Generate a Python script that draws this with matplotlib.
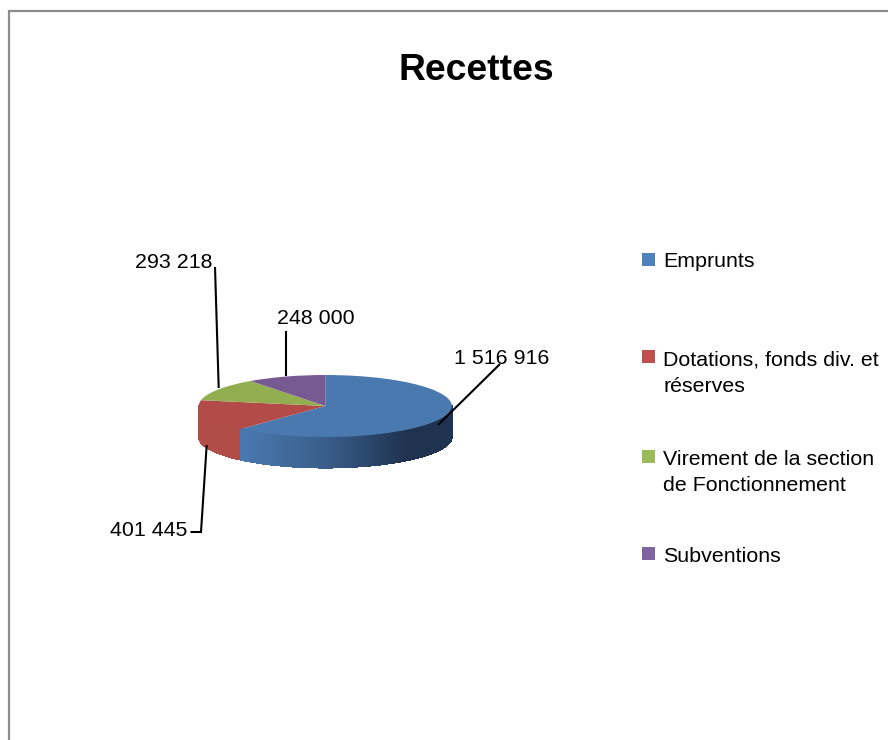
import numpy as np
import matplotlib
matplotlib.use("Agg")
import matplotlib.pyplot as plt
from matplotlib.transforms import Affine2D
from matplotlib.patches import Rectangle

plt.rcParams['font.family'] = ['Liberation Sans', 'DejaVu Sans']

title = "Recettes"
categories = ["Emprunts", "Dotations, fonds div. et\nréserves",
              "Virement de la section\nde Fonctionnement", "Subventions"]
values = [1516916, 401445, 293218, 248000]
value_labels = ["1 516 916", "401 445", "293 218", "248 000"]

top_colors = ["#4a79b0", "#b34c49", "#93ae50", "#775a92"]
legend_colors = ["#4f81bd", "#c0504d", "#9bbb59", "#8064a2"]

W, H = 888, 740
fig = plt.figure(figsize=(W / 100, H / 100), dpi=100, facecolor="white")
ax = fig.add_axes([0, 0, 1, 1])

def Y(p):
    return H - p

CX, CY, RX, RY, DEPTH = 325.3, 406, 126.5, 31, 30.5

# top face: real pie wedges squashed into an ellipse
wedges, _ = ax.pie(values, colors=top_colors, startangle=90, counterclock=False,
                   center=(CX, Y(CY)), radius=RX, frame=False,
                   wedgeprops=dict(linewidth=0))
squash = (Affine2D().translate(-CX, -Y(CY)).scale(1, RY / RX)
          .translate(CX, Y(CY)) + ax.transData)
for w in wedges:
    w.set_transform(squash)
    w.set_zorder(5)

ax.set_aspect("auto")
ax.set_xlim(0, W)
ax.set_ylim(0, H)
ax.axis("off")

# side wall: angles measured clockwise from 12 o'clock
edges = np.concatenate([[0], np.cumsum(values)]) / sum(values) * 360.0
BLUE_L, BLUE_M, BLUE_R = np.array([0x4a, 0x79, 0xb0]), np.array([0x3a, 0x5f, 0x8c]), np.array([0x1f, 0x33, 0x50])
RED_SIDE = "#b24c48"

def side(a0, a1, color_fn, n):
    angs = np.radians(np.linspace(a0, a1, n + 1))
    for i in range(n):
        a = angs[i:i + 2]
        x = CX + RX * np.sin(a)
        y = CY - RY * np.cos(a)
        px = np.concatenate([x, x[::-1]])
        py = np.concatenate([y, (y + DEPTH)[::-1]])
        c = color_fn(x.mean())
        ax.fill(px, Y(py), facecolor=c, edgecolor=c, linewidth=0.8,
                antialiased=False, zorder=2)

def blue_shade(x):
    t = np.clip((x - 239) / (405 - 239), 0, 1)
    if t < 0.5:
        c = BLUE_L + (BLUE_M - BLUE_L) * t / 0.5
    else:
        c = BLUE_M + (BLUE_R - BLUE_M) * (t - 0.5) / 0.5
    return tuple(c / 255)

side(edges[1], 270, lambda x: RED_SIDE, 30)
side(90, edges[1], blue_shade, 90)

# leader lines
leaders = [
    ([500, 438], [364, 425]),
    ([190.5, 201, 206.7], [532, 532, 445]),
    ([215, 218.7], [267, 388]),
    ([285.7, 285.7], [331, 376]),
]
for xs, ys in leaders:
    ax.plot(xs, Y(np.array(ys)), color="black", lw=1.5, zorder=6, solid_capstyle="butt", solid_joinstyle="miter")

FS = 15.4
label_pos = [(501.5, 359, "center"), (187, 530, "right"), (212, 262, "right"), (315.5, 318.5, "center")]
for (x, y, ha), s in zip(label_pos, value_labels):
    ax.text(x, Y(y), s, fontsize=FS, ha=ha, va="center", color="black", zorder=7)

ax.text(476.5, Y(70), title, fontsize=26.8, fontweight="bold", ha="center", va="center", color="black")

# legend
sq_y = [253, 350, 450, 547]
txt_y = [261.5, 373.5, 472.5, 556.5]
for c, s, sy, ty in zip(legend_colors, categories, sq_y, txt_y):
    ax.add_patch(Rectangle((642, Y(sy + 13)), 13, 13, facecolor=c, edgecolor="none"))
    ax.text(663, Y(ty), s, fontsize=FS, ha="left", va="center", color="black", linespacing=1.47)

# chart frame
ax.plot([9, 9, W], [Y(H), Y(11), Y(11)], color="#8c8c8c", lw=1.6, solid_joinstyle="miter", clip_on=True)

fig.savefig("out.png", dpi=100, facecolor="white")
